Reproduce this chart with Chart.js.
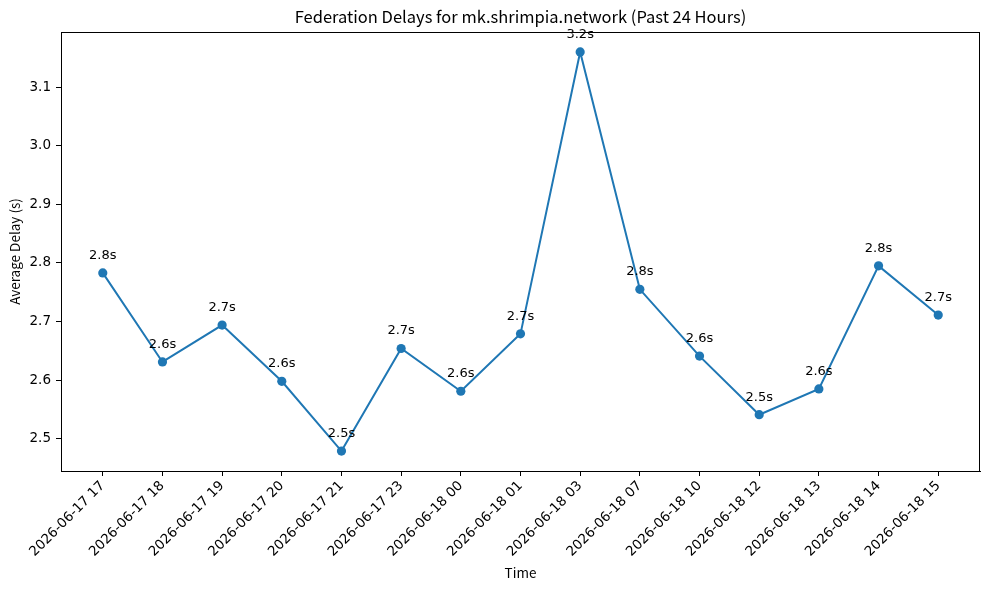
<!DOCTYPE html>
<html>
<head>
<meta charset="utf-8">
<script src="https://cdn.jsdelivr.net/npm/chart.js@4"></script>
<style>
  body { margin: 0; background: #fff; }
  canvas { display: block; }
</style>
</head>
<body>
<canvas id="delayChart" width="989" height="590"></canvas>
<script>
const chartTitle = 'Federation Delays for mk.shrimpia.network (Past 24 Hours)';
const timeLabels = [
    '2026-06-17 17', '2026-06-17 18', '2026-06-17 19', '2026-06-17 20',
    '2026-06-17 21', '2026-06-17 23', '2026-06-18 00', '2026-06-18 01',
    '2026-06-18 03', '2026-06-18 07', '2026-06-18 10', '2026-06-18 12',
    '2026-06-18 13', '2026-06-18 14', '2026-06-18 15'
];
const avgDelays = [2.783, 2.631, 2.694, 2.598, 2.479, 2.654, 2.581, 2.679,
    3.160, 2.755, 2.641, 2.541, 2.585, 2.795, 2.711];
const yTicks = [2.5, 2.6, 2.7, 2.8, 2.9, 3.0, 3.1];

const FONT = '"Noto Sans CJK JP", "DejaVu Sans", sans-serif';
const NUM_FONT = '"DejaVu Sans", sans-serif';
const lineColor = '#1f77b4';

// margens no estilo matplotlib (5%)
const yMin = Math.min(...avgDelays), yMax = Math.max(...avgDelays);
const yPad = (yMax - yMin) * 0.05;
const xPad = (timeLabels.length - 1) * 0.05;

// moldura, titulo e rotulos dos pontos
const extras = {
    id: 'extras',
    afterDatasetsDraw(chart) {
        const { ctx, chartArea: a } = chart;
        ctx.save();
        ctx.strokeStyle = '#000';
        ctx.lineWidth = 1;
        ctx.strokeRect(Math.round(a.left) + 0.5, Math.round(a.top) + 0.5,
            Math.round(a.right - a.left) - 1, Math.round(a.bottom - a.top));

        ctx.fillStyle = '#000';
        ctx.font = '13px ' + NUM_FONT;
        ctx.textAlign = 'center';
        ctx.textBaseline = 'alphabetic';
        chart.getDatasetMeta(0).data.forEach((pt, i) => {
            ctx.fillText(avgDelays[i].toFixed(1) + 's', pt.x, pt.y - 14);
        });

        ctx.font = '16.5px ' + FONT;
        ctx.textBaseline = 'middle';
        ctx.fillText(chartTitle, (a.left + a.right) / 2, 17);
        ctx.restore();
    }
};

new Chart(document.getElementById('delayChart'), {
    type: 'line',
    data: {
        datasets: [{
            data: avgDelays.map((v, i) => ({ x: i, y: v })),
            borderColor: lineColor,
            backgroundColor: lineColor,
            borderWidth: 2,
            pointRadius: 4.6,
            pointHoverRadius: 4.6,
            pointBorderWidth: 0,
            tension: 0
        }]
    },
    options: {
        responsive: false,
        animation: false,
        layout: { padding: { top: 32, right: 9, left: 0, bottom: 0 } },
        plugins: { legend: { display: false }, tooltip: { enabled: false } },
        scales: {
            x: {
                type: 'linear',
                min: -xPad,
                max: timeLabels.length - 1 + xPad,
                afterBuildTicks: s => { s.ticks = timeLabels.map((_, i) => ({ value: i })); },
                afterFit: s => { s.height = 119; },
                grid: { drawOnChartArea: false, drawTicks: true, tickLength: 5, color: '#000' },
                border: { color: '#000', width: 1 },
                ticks: {
                    autoSkip: false,
                    minRotation: 45,
                    maxRotation: 45,
                    padding: 2,
                    color: '#000',
                    font: { family: NUM_FONT, size: 13.5 },
                    callback: v => timeLabels[v]
                },
                title: {
                    display: true,
                    text: 'Time',
                    color: '#000',
                    font: { family: FONT, size: 13.5 },
                    padding: { top: 0, bottom: 9 }
                }
            },
            y: {
                min: yMin - yPad,
                max: yMax + yPad,
                afterBuildTicks: s => { s.ticks = yTicks.map(v => ({ value: v })); },
                afterFit: s => { s.width = 61; },
                grid: { drawOnChartArea: false, drawTicks: true, tickLength: 5, color: '#000' },
                border: { color: '#000', width: 1 },
                ticks: {
                    padding: 5,
                    color: '#000',
                    font: { family: NUM_FONT, size: 13.5 },
                    callback: v => v.toFixed(1)
                },
                title: {
                    display: true,
                    text: 'Average Delay (s)',
                    color: '#000',
                    font: { family: FONT, size: 13.5 },
                    padding: { top: 7, bottom: 0 }
                }
            }
        }
    },
    plugins: [extras]
});
</script>
</body>
</html>
